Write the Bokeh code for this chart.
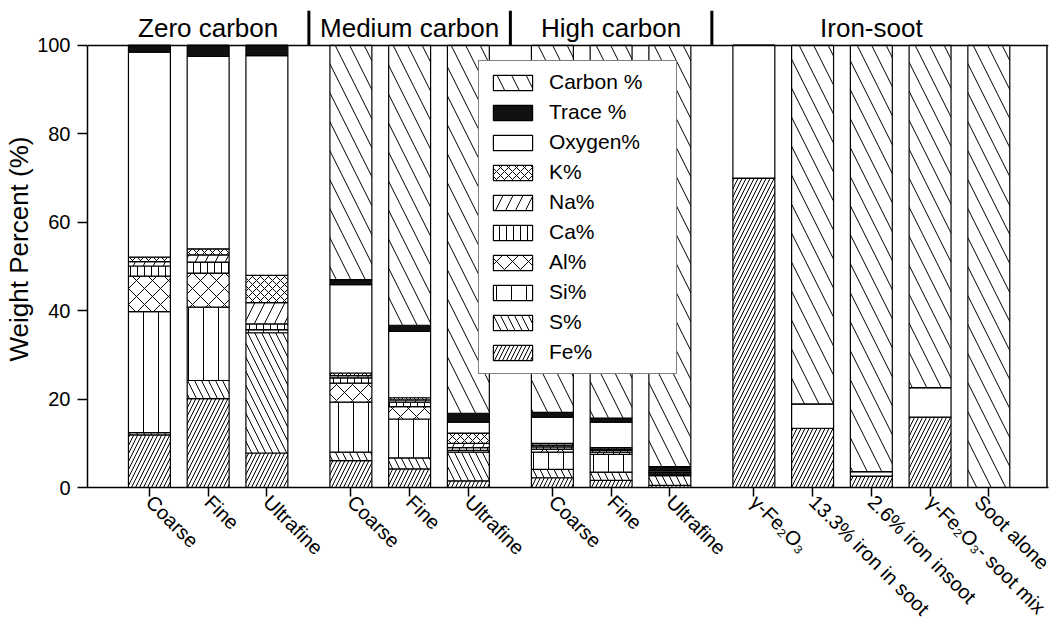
import math
from bokeh.plotting import figure
from bokeh.models import ColumnDataSource, Range1d, FixedTicker, Legend, LegendItem, Span
from bokeh.core.properties import value
from bokeh.embed import file_html
from bokeh.resources import INLINE

# ---------------- data ----------------
groups = ["Zero carbon", "Medium carbon", "High carbon", "Iron-soot"]
samples = ["Coarse", "Fine", "Ultrafine",
           "Coarse", "Fine", "Ultrafine",
           "Coarse", "Fine", "Ultrafine",
           "γ-Fe₂O₃", "13.3% iron in soot", "2.6% iron insoot",
           "γ-Fe₂O₃- soot mix", "Soot alone"]
sample_group = [0, 0, 0, 1, 1, 1, 2, 2, 2, 3, 3, 3, 3, 3]

fe     = [11.9, 20.1, 7.8, 6.1, 4.2, 1.5, 2.2, 1.6, 0.5, 70.0, 13.4, 2.6, 15.9, 0.0]
s_pct  = [0.5, 4.1, 27.2, 1.9, 2.5, 6.5, 1.9, 1.9, 2.2, 0.0, 0.0, 0.0, 0.0, 0.0]
si     = [27.4, 16.6, 0.7, 11.3, 8.8, 0.4, 3.9, 4.0, 0.3, 0.0, 0.0, 0.0, 0.0, 0.0]
al     = [8.0, 7.7, 0.0, 4.3, 2.8, 0.0, 0.7, 0.5, 0.0, 0.0, 0.0, 0.0, 0.0, 0.0]
ca     = [2.3, 2.5, 1.3, 1.2, 1.0, 0.6, 0.5, 0.4, 0.3, 0.0, 0.0, 0.0, 0.0, 0.0]
na     = [1.0, 1.6, 4.8, 0.5, 0.5, 1.0, 0.4, 0.3, 0.2, 0.0, 0.0, 0.0, 0.0, 0.0]
k_pct  = [1.0, 1.4, 6.2, 0.6, 0.5, 2.3, 0.4, 0.3, 0.0, 0.0, 0.0, 0.0, 0.0, 0.0]
oxygen = [46.4, 43.5, 49.7, 20.0, 15.0, 2.5, 5.9, 5.8, 0.3, 30.0, 5.5, 1.0, 6.7, 0.0]
trace  = [1.5, 2.5, 2.3, 1.1, 1.4, 2.0, 1.1, 0.9, 0.9, 0.0, 0.0, 0.0, 0.0, 0.0]
carbon = [0.0, 0.0, 0.0, 53.0, 63.3, 83.2, 83.0, 84.3, 95.3, 0.0, 81.1, 96.4, 77.4, 100.0]

series_keys = ["Fe", "S", "Si", "Al", "Ca", "Na", "K", "O", "Trace", "C"]
series_labels = ["Fe%", "S%", "Si%", "Al%", "Ca%", "Na%", "K%", "Oxygen%", "Trace %", "Carbon %"]
y_ticks = [0, 20, 40, 60, 80, 100]

# ---------------- layout helpers ----------------
GROUP_GAP = 0.43
xs = [round(i + GROUP_GAP * g, 4) for i, g in enumerate(sample_group)]

source = ColumnDataSource(dict(x=xs, Fe=fe, S=s_pct, Si=si, Al=al, Ca=ca, Na=na,
                               K=k_pct, O=oxygen, Trace=trace, C=carbon))

FONT = "Liberation Sans"
Y_TOP = 107.9

p = figure(width=1053, height=630,
           x_range=Range1d(-1.054, 15.306), y_range=Range1d(0, Y_TOP),
           output_backend="svg", toolbar_location=None,
           min_border_left=87, min_border_right=5, min_border_top=10, min_border_bottom=143)
p.xgrid.visible = False
p.ygrid.visible = False
p.outline_line_color = None
p.background_fill_color = "white"
p.border_fill_color = "white"

fills    = ["white", "white", "white", "white", "white", "white", "white", "white", "#111111", "white"]
patterns = ["/", "\\", "|", "x", "|", "/", "x", " ", " ", "\\"]
scales   = [8, 14, 15, 16, 7, 20, 8, 12, 12, 29]

renderers = p.vbar_stack(series_keys, x="x", width=0.714, source=source,
                         fill_color=fills, line_color="black", line_width=1.2,
                         hatch_pattern=patterns, hatch_scale=scales,
                         hatch_color="black", hatch_weight=1.0)

# frame top line and right border (only the 0..100 part)
p.add_layout(Span(location=100, dimension="width", line_color="black", line_width=1.5))
x_right = 15.28
p.segment(x0=[x_right], y0=[0], x1=[x_right], y1=[100], line_color="black", line_width=1.5)

# group headers and separators
gx, sep = [], []
for g in range(len(groups)):
    members = [xs[i] for i in range(len(xs)) if sample_group[i] == g]
    gx.append(sum(members) / len(members))
    if g < len(groups) - 1:
        nxt = [xs[i] for i in range(len(xs)) if sample_group[i] == g + 1]
        sep.append((max(members) + min(nxt)) / 2)
p.text(x=gx, y=[104.0] * len(groups), text=groups, text_font=value(FONT),
       text_font_size="26px", text_align="center", text_baseline="middle",
       text_color="black")
p.segment(x0=sep, y0=[100] * len(sep), x1=sep, y1=[Y_TOP] * len(sep),
          line_color="black", line_width=3)

# y axis
ya = p.yaxis[0]
ya.ticker = FixedTicker(ticks=y_ticks)
ya.bounds = (0, 100)
ya.major_tick_out = 10
ya.major_tick_in = 0
ya.minor_tick_out = 0
ya.minor_tick_in = 0
ya.axis_line_width = 1.5
ya.major_tick_line_width = 1.5
ya.major_label_text_font = FONT
ya.major_label_text_font_size = "20px"
ya.major_label_text_color = "black"
ya.major_label_standoff = 7
ya.axis_label = "Weight Percent (%)"
ya.axis_label_text_font = FONT
ya.axis_label_text_font_size = "26px"
ya.axis_label_text_font_style = "normal"
ya.axis_label_text_color = "black"
ya.axis_label_standoff = 0

# x axis
xa = p.xaxis[0]
xa.ticker = FixedTicker(ticks=xs)
xa.major_label_overrides = {x: lab for x, lab in zip(xs, samples)}
xa.major_label_orientation = -math.pi / 4
xa.major_tick_out = 9
xa.major_tick_in = 0
xa.minor_tick_out = 0
xa.minor_tick_in = 0
xa.axis_line_width = 1.5
xa.major_tick_line_width = 1.5
xa.major_label_text_font = FONT
xa.major_label_text_font_size = "20px"
xa.major_label_text_color = "black"
xa.major_label_standoff = 2

# legend (top entry = Carbon)
items = [LegendItem(label=lab, renderers=[r]) for lab, r in zip(series_labels, renderers)]
items.reverse()
legend = Legend(items=items, location=(391, 113), glyph_width=49, glyph_height=19,
                label_height=21, label_width=118, label_standoff=12, spacing=6,
                padding=9, margin=0, label_text_font=FONT, label_text_font_size="21px",
                label_text_color="black", border_line_color="black", border_line_width=1.5,
                background_fill_color="white", background_fill_alpha=1.0)
p.add_layout(legend)

open("out.html", "w", encoding="utf-8").write(file_html(p, INLINE))
